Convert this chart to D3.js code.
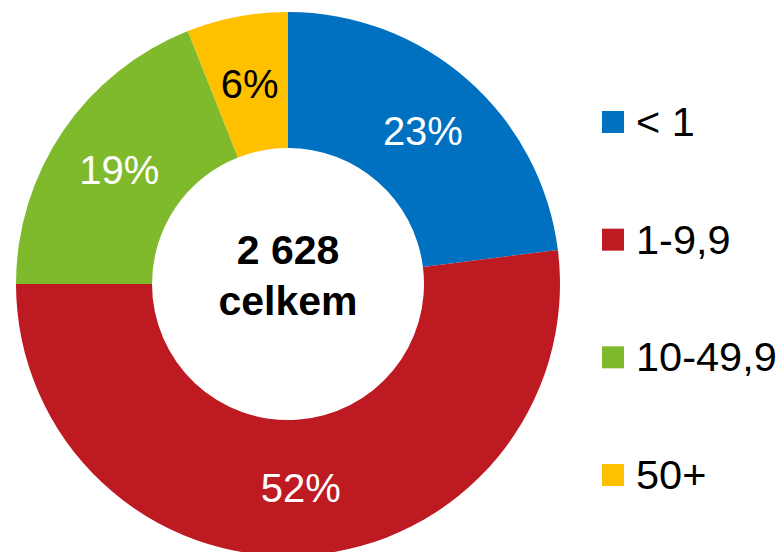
<!DOCTYPE html>
<html>
<head>
<meta charset="utf-8">
<script src="https://cdn.jsdelivr.net/npm/d3@7"></script>
<style>
  html, body { margin: 0; padding: 0; background: #fff; }
  svg { display: block; font-family: "Liberation Sans", Arial, sans-serif; }
</style>
</head>
<body>
<svg id="chart" width="780" height="552"></svg>
<script>
const categories = ["< 1", "1-9,9", "10-49,9", "50+"];
const shares = [23, 52, 19, 6];
const colors = ["#0070C0", "#BE1A22", "#7FBA2D", "#FFC000"];
const labelColors = ["#ffffff", "#ffffff", "#ffffff", "#000000"];
const totalLines = ["2 628", "celkem"];

const svg = d3.select("#chart");
const cx = 288, cy = 284, outerR = 272, innerR = 136;

const data = categories.map((c, i) => ({ cat: c, value: shares[i], color: colors[i], lc: labelColors[i] }));

const pie = d3.pie().value(d => d.value).sort(null);
const arc = d3.arc().innerRadius(innerR).outerRadius(outerR);
const labelArc = d3.arc().innerRadius((innerR + outerR) / 2).outerRadius((innerR + outerR) / 2);

const g = svg.append("g").attr("transform", `translate(${cx},${cy})`);
const arcs = pie(data);

g.selectAll("path.slice").data(arcs).enter().append("path")
  .attr("class", "slice")
  .attr("d", arc)
  .attr("fill", d => d.data.color);

g.selectAll("text.pct").data(arcs).enter().append("text")
  .attr("class", "pct")
  .attr("transform", d => `translate(${labelArc.centroid(d)})`)
  .attr("text-anchor", "middle")
  .attr("dy", "0.36em")
  .attr("font-size", 40)
  .attr("fill", d => d.data.lc)
  .text(d => d.data.value + "%");

g.append("text")
  .attr("text-anchor", "middle")
  .attr("x", 0).attr("y", -20)
  .attr("font-size", 41).attr("font-weight", "bold").attr("fill", "#000")
  .text(totalLines[0]);
g.append("text")
  .attr("text-anchor", "middle")
  .attr("x", 0).attr("y", 31)
  .attr("font-size", 41).attr("font-weight", "bold").attr("fill", "#000")
  .text(totalLines[1]);

const legendY = d3.scalePoint().domain(categories).range([122, 475]);
const leg = svg.append("g");
const items = leg.selectAll("g.item").data(data).enter().append("g")
  .attr("class", "item")
  .attr("transform", d => `translate(602,${legendY(d.cat)})`);
items.append("rect")
  .attr("x", 0).attr("y", -11).attr("width", 22).attr("height", 22)
  .attr("fill", d => d.color);
items.append("text")
  .attr("x", 34).attr("y", 14)
  .attr("font-size", 41.5).attr("fill", "#000")
  .text(d => d.cat);
</script>
</body>
</html>
